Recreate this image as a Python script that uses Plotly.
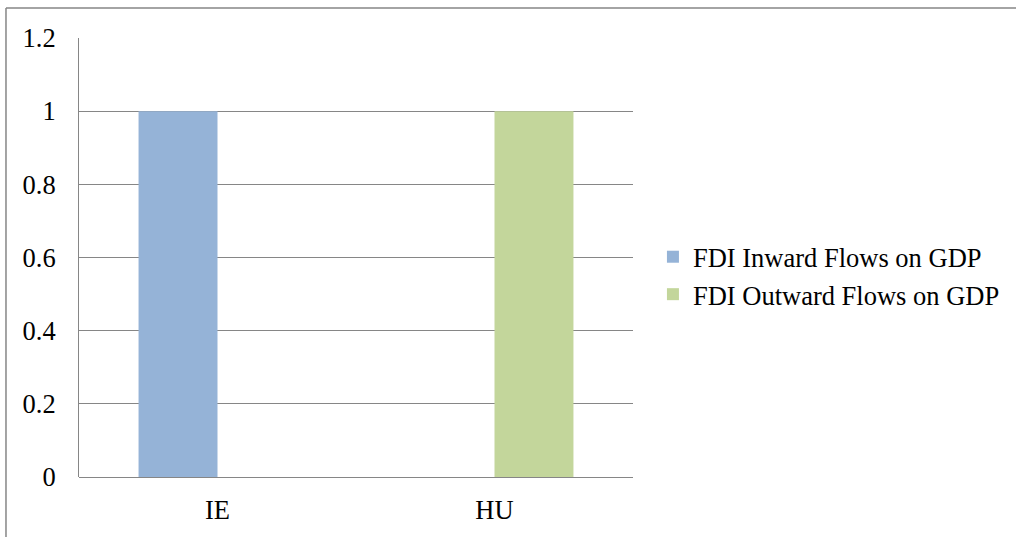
import plotly.graph_objects as go

# Countries and the two FDI ratios per country
countries = ["IE", "HU"]
inward_flows = [1, 0]
outward_flows = [0, 1]
y_ticks = [0, 0.2, 0.4, 0.6, 0.8, 1, 1.2]

FONT = "Liberation Serif, Times New Roman, serif"
FS = 26.5
GRID = "#868686"

fig = go.Figure()
fig.add_trace(go.Bar(name="FDI Inward Flows on GDP", x=countries, y=inward_flows,
                     marker=dict(color="#95B3D7", line=dict(width=0))))
fig.add_trace(go.Bar(name="FDI Outward Flows on GDP", x=countries, y=outward_flows,
                     marker=dict(color="#C3D69B", line=dict(width=0))))

fig.update_layout(
    width=1016, height=537,
    margin=dict(l=79, r=383, t=38, b=60, autoexpand=False),
    paper_bgcolor="white", plot_bgcolor="white",
    barmode="group", bargap=0.43, bargroupgap=0,
    font=dict(family=FONT, size=FS, color="black"),
    legend=dict(x=1.036, xanchor="left", y=0.459, yanchor="middle",
                font=dict(family=FONT, size=FS, color="black"),
                bgcolor="rgba(0,0,0,0)", itemwidth=30),
    xaxis=dict(showgrid=False, showline=False, zeroline=False, ticks="",
               tickfont=dict(family=FONT, size=FS), ticklabelstandoff=14),
    yaxis=dict(range=[0, 1.2], tickvals=y_ticks, ticktext=[f"{v:g}" for v in y_ticks],
               showgrid=True, gridcolor=GRID, gridwidth=1,
               zeroline=True, zerolinecolor=GRID, zerolinewidth=1,
               showline=True, linecolor=GRID, linewidth=1, ticks="",
               tickfont=dict(family=FONT, size=FS), ticklabelstandoff=17),
    shapes=[
        # outer chart frame: top and left edges (the rest runs off the page)
        dict(type="line", xref="paper", yref="paper",
             x0=-0.1318, x1=1.8, y0=1.0683, y1=1.0683,
             line=dict(color=GRID, width=1.5), layer="below"),
        dict(type="line", xref="paper", yref="paper",
             x0=-0.1318, x1=-0.1318, y0=-0.2, y1=1.0683,
             line=dict(color=GRID, width=1.5), layer="below"),
    ],
)

fig.write_html("out.html")
